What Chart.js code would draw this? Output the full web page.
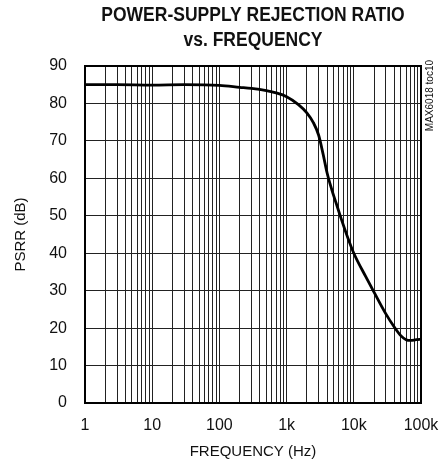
<!DOCTYPE html>
<html>
<head>
<meta charset="utf-8">
<script src="https://cdn.jsdelivr.net/npm/chart.js@4/dist/chart.umd.min.js"></script>
<style>
  html, body { margin: 0; padding: 0; background: #fff; }
  canvas { display: block; }
</style>
</head>
<body>
<canvas id="psrrChart" width="441" height="466"></canvas>
<script>
// curve (Hz, dB)
const freqHz = [1, 3, 10, 30, 100, 200, 300, 500, 700, 1000, 1500, 2000, 2500, 3000, 3500, 4000, 4700, 5500, 6200, 8000, 10000, 15000, 20000, 30000, 40000, 50000, 60000, 70000, 85000, 100000];
const psrrDb = [85.0, 85.0, 84.9, 85.0, 84.8, 84.3, 84.0, 83.4, 82.8, 81.8, 79.7, 77.5, 74.9, 71.5, 66.4, 61.5, 57.0, 53.2, 50.3, 44.5, 40.0, 33.8, 29.6, 23.8, 20.3, 18.0, 16.9, 16.7, 16.9, 17.0];

const xDecades = [1, 10, 100, 1000, 10000, 100000];
const xTickLabels = ['1', '10', '100', '1k', '10k', '100k'];
const yTicks = [0, 10, 20, 30, 40, 50, 60, 70, 80, 90];
const titleLines = ['POWER-SUPPLY REJECTION RATIO', 'vs. FREQUENCY'];

// minor log grid lines 2..9 inside each decade
const xGrid = [];
xDecades.forEach((d, i) => {
  xGrid.push(d);
  if (i < xDecades.length - 1) {
    for (let m = 2; m <= 9; m++) xGrid.push(d * m);
  }
});

const gridColor = '#222';
const tickFont = { family: 'Liberation Sans, Arial, sans-serif', size: 16 };

// title is a condensed bold face in the original, so squeeze it a little
const frameAndText = {
  id: 'frameAndText',
  afterDraw(chart) {
    const { ctx, chartArea } = chart;
    ctx.save();
    ctx.strokeStyle = '#000';
    ctx.lineWidth = 2;
    ctx.strokeRect(chartArea.left, chartArea.top, chartArea.right - chartArea.left, chartArea.bottom - chartArea.top);

    const cx = (chartArea.left + chartArea.right) / 2;
    ctx.fillStyle = '#111';
    ctx.font = 'bold 20px "Liberation Sans", Arial, sans-serif';
    ctx.textAlign = 'center';
    ctx.textBaseline = 'middle';
    titleLines.forEach((line, i) => {
      ctx.save();
      ctx.translate(cx, 15 + i * 25);
      ctx.scale(0.875, 1);
      ctx.fillText(line, 0, 0);
      ctx.restore();
    });

    ctx.translate(430, 60);
    ctx.rotate(-Math.PI / 2);
    ctx.font = '10px "Liberation Sans", Arial, sans-serif';
    ctx.textAlign = 'right';
    ctx.fillText('MAX6018 toc10', 0, 0);
    ctx.restore();
  }
};

const ctx = document.getElementById('psrrChart');
new Chart(ctx, {
  type: 'line',
  data: {
    datasets: [
      {
        data: freqHz.map((f, i) => ({ x: f, y: psrrDb[i] })),
        borderColor: '#000',
        borderWidth: 2.8,
        pointRadius: 0,
        cubicInterpolationMode: 'monotone',
        fill: false
      }
    ]
  },
  options: {
    responsive: false,
    animation: false,
    layout: {
      padding: { left: 0, right: 20, top: 66, bottom: 0 }
    },
    plugins: {
      legend: { display: false },
      tooltip: { enabled: false },
      title: { display: false }
    },
    scales: {
      x: {
        type: 'logarithmic',
        min: 1,
        max: 100000,
        afterBuildTicks: (scale) => {
          scale.ticks = xGrid.map(v => ({ value: v }));
        },
        afterFit: (scale) => {
          scale.height = 63;
          scale.paddingLeft = 0;
          scale.paddingRight = 0;
        },
        grid: { color: gridColor, lineWidth: 1, drawTicks: false },
        border: { display: false },
        ticks: {
          autoSkip: false,
          maxRotation: 0,
          padding: 13,
          color: '#111',
          font: tickFont,
          callback: (value) => {
            const i = xDecades.indexOf(value);
            return i >= 0 ? xTickLabels[i] : '';
          }
        },
        title: {
          display: true,
          text: 'FREQUENCY (Hz)',
          color: '#111',
          font: { family: 'Liberation Sans, Arial, sans-serif', size: 15 },
          padding: { top: 4, bottom: 5 }
        }
      },
      y: {
        min: 0,
        max: 90,
        afterBuildTicks: (scale) => {
          scale.ticks = yTicks.map(v => ({ value: v }));
        },
        afterFit: (scale) => {
          scale.width = 85;
          scale.paddingTop = 0;
          scale.paddingBottom = 0;
        },
        grid: { color: gridColor, lineWidth: 1, drawTicks: false },
        border: { display: false },
        ticks: {
          padding: 18,
          color: '#111',
          font: tickFont
        },
        title: {
          display: true,
          text: 'PSRR (dB)',
          color: '#111',
          font: { family: 'Liberation Sans, Arial, sans-serif', size: 15 },
          padding: { top: 12, bottom: 0 }
        }
      }
    }
  },
  plugins: [frameAndText]
});
</script>
</body>
</html>
